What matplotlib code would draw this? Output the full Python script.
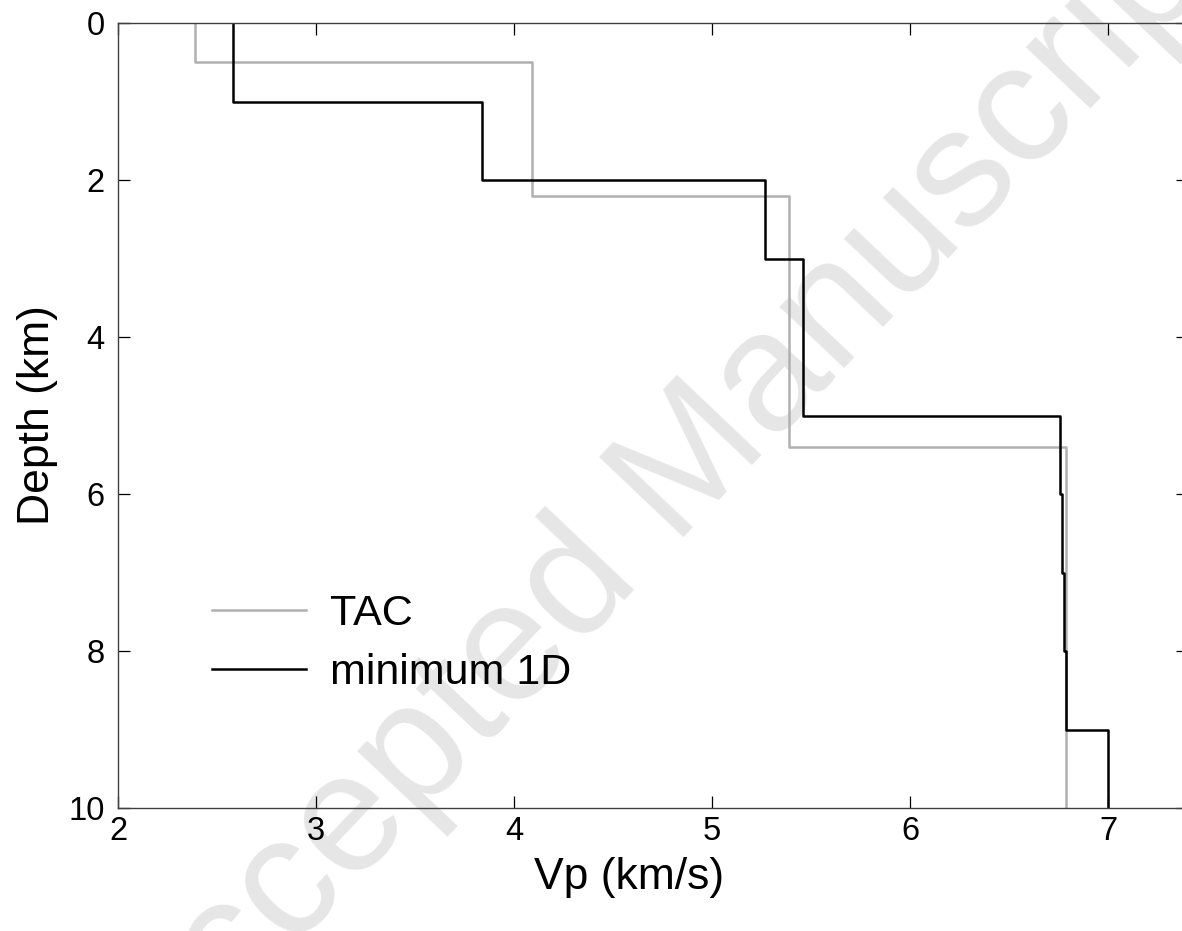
import matplotlib.pyplot as plt
import numpy as np

# layer tops (km) and P velocities (km/s)
tac_top = [0.0, 0.5, 2.2, 5.4]
tac_vp = [2.39, 4.09, 5.39, 6.79]
min_top = [0.0, 1.0, 2.0, 3.0, 5.0, 6.0, 7.0, 8.0, 9.0]
min_vp = [2.58, 3.84, 5.27, 5.46, 6.76, 6.77, 6.78, 6.79, 7.00]
max_depth = 10.0


def profile(tops, vp, bottom):
    # turn layers into step line (x=vp, y=depth)
    bots = list(tops[1:]) + [bottom]
    x = np.repeat(vp, 2)
    y = np.ravel(np.column_stack([tops, bots]))
    return x, y


plt.rcParams['font.family'] = ['Liberation Sans', 'DejaVu Sans']

W, H = 1182, 931
fig = plt.figure(figsize=(W / 100, H / 100), dpi=100)
ax = fig.add_axes([118 / W, 1 - 808 / H, 1070 / W, 785 / H])
ax.patch.set_alpha(0)
ax.set_zorder(1)

fig.text(0.566, 0.474, "Accepted Manuscript", fontsize=122, color="#e6e6e6",
         rotation=46.5, ha="center", va="center", rotation_mode="anchor", zorder=0)

x, y = profile(tac_top, tac_vp, max_depth)
ax.plot(x, y, color="#b0b0b0", lw=1.8, label="TAC")
x, y = profile(min_top, min_vp, max_depth)
ax.plot(x, y, color="black", lw=1.8, label="minimum 1D")

ax.set_xlim(2, 2 + 1070 / 198)
ax.set_ylim(10, 0)
ax.set_xticks([2, 3, 4, 5, 6, 7])
ax.set_yticks([0, 2, 4, 6, 8, 10])
ax.tick_params(direction="in", length=8.5, width=0.9, labelsize=23.5,
               top=True, right=True)
ax.tick_params(axis="x", pad=5.5)
ax.tick_params(axis="y", pad=9.5)
for s in ax.spines.values():
    s.set_color("#404040")
    s.set_linewidth(1.0)

ax.set_xlabel("Vp (km/s)", fontsize=32)
ax.set_ylabel("Depth (km)", fontsize=32)
ax.xaxis.set_label_coords(0.478, -0.062)
ax.yaxis.set_label_coords(-0.056, 0.5)

ax.legend(loc="upper left", bbox_to_anchor=(0.088, 0.272), frameon=False,
          borderpad=0, borderaxespad=0, fontsize=31, handlelength=2.18,
          handletextpad=0.55, labelspacing=0.44)

fig.savefig("out.png", dpi=100)
